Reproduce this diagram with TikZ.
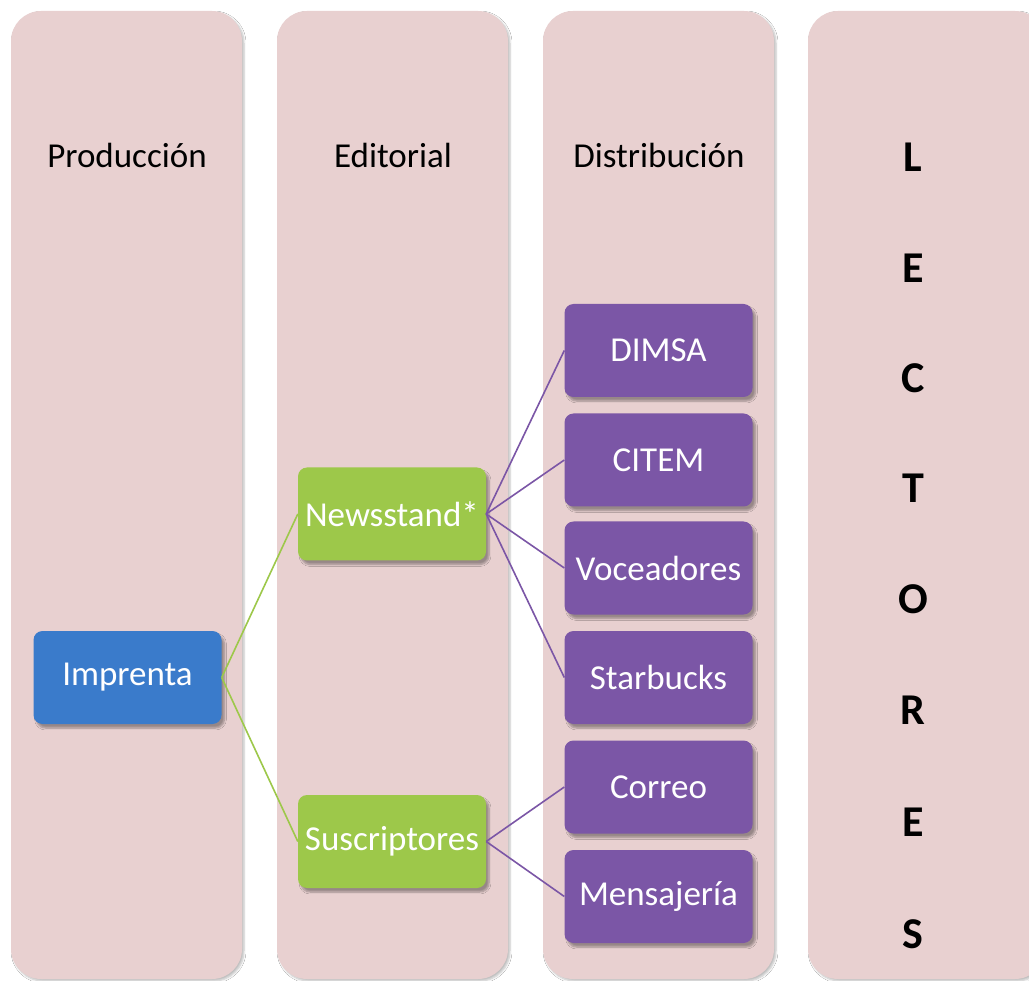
\documentclass[tikz,border=0pt]{standalone}
\usepackage{fontspec}
\setmainfont{Carlito}
\usetikzlibrary{shadows.blur}
\definecolor{colpink}{RGB}{232,208,208}
\definecolor{nblue}{RGB}{58,123,203}
\definecolor{ngreen}{RGB}{157,200,74}
\definecolor{npurple}{RGB}{123,86,166}
\tikzset{
  colbox/.style={fill=colpink, rounded corners=30pt, blur shadow={shadow xshift=2pt, shadow yshift=-2pt, shadow blur steps=5, shadow opacity=25}},
  hdr/.style={font=\fontsize{35}{40}\selectfont, text=black},
  lect/.style={font=\fontsize{44}{48}\selectfont\bfseries, text=black},
  nbox/.style={rounded corners=9pt, minimum width=188pt, minimum height=93pt, text=white, font=\fontsize{35}{40}\selectfont, inner sep=0pt, blur shadow={shadow xshift=3pt, shadow yshift=-4pt, shadow blur steps=6, shadow opacity=35}},
  pnode/.style={nbox, fill=npurple},
  gnode/.style={nbox, fill=ngreen},
  bnode/.style={nbox, fill=nblue},
  glink/.style={draw=ngreen, line width=1.6pt},
  plink/.style={draw=npurple, line width=1.6pt},
}
\begin{document}
\begin{tikzpicture}[x=1pt,y=-1pt]
\useasboundingbox (0,0) rectangle (1029,981);
\clip (0,0) rectangle (1029,981);
\fill[white] (0,0) rectangle (1029,981);
\path[colbox] (11,11) rectangle (242,979);
\path[colbox] (277,11) rectangle (508,979);
\path[colbox] (543,11) rectangle (774,979);
\path[colbox] (808,11) rectangle (1045,979);
\node[hdr] (h1) at (127,155) {Producción};
\node[hdr] (h2) at (393,155) {Editorial};
\node[hdr] (h3) at (659,155) {Distribución};
\foreach \l/\y [count=\i] in {L/157,E/268,C/378,T/488,O/599,R/710,E/822,S/934}
  \node[lect] (lt\i) at (913,\y) {\l};
\node[bnode] (imp) at (127.5,677.5) {Imprenta};
\node[gnode] (news) at (392,514) {Newsstand*};
\node[gnode] (susc) at (392,841.5) {Suscriptores};
\node[pnode] (dimsa) at (658.5,350.5) {DIMSA};
\node[pnode] (citem) at (658.5,460) {CITEM};
\node[pnode] (voce) at (658.5,568) {Voceadores};
\node[pnode] (star) at (658.5,677.5) {Starbucks};
\node[pnode] (corr) at (658.5,787) {Correo};
\node[pnode] (mens) at (658.5,896.5) {Mensajería};
\draw[glink] (imp.east) -- (news.west);
\draw[glink] (imp.east) -- (susc.west);
\foreach \t in {dimsa,citem,voce,star}
  \draw[plink] (news.east) -- (\t.west);
\foreach \t in {corr,mens}
  \draw[plink] (susc.east) -- (\t.west);
\end{tikzpicture}
\end{document}
